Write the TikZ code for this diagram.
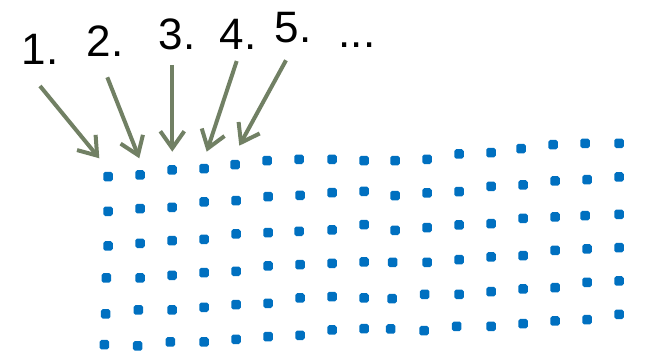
\documentclass[tikz,border=0pt]{standalone}
\usepackage{fontspec}
\setmainfont{Liberation Sans}
\usetikzlibrary{arrows.meta}
\definecolor{dotblue}{HTML}{0070C0}
\definecolor{arrowgreen}{HTML}{718064}
\tikzset{
  dotbox/.style={fill=dotblue, draw=none, minimum size=9.5pt, inner sep=0pt, rounded corners=1.8pt},
  lbl/.style={font=\fontsize{44}{44}\selectfont, inner sep=0pt, anchor=base},
  pointer/.style={draw=arrowgreen, line width=4pt, -{Straight Barb[length=17pt,width=24pt,line width=4pt]}}
}
\begin{document}
\begin{tikzpicture}[x=1pt,y=-1pt]
\useasboundingbox (0,0) rectangle (646,352);
% dot grid (image pixel coordinates)
\foreach \r/\row in {1/{108/176.7,140/175,172/170,204/168.7,235/164.7,267/160.7,299/159.3,332/159.3,364/160.7,395/160.7,427/159.3,459/154,491/152.7,521/148.7,553/144.7,585/143.3,619/143.3},
                      2/{108/211.3,140/208.7,172/207.3,204/202,236/200.7,268/196.7,300/195.3,332/192.7,364/191.3,395/195.7,427/193,459/191.7,491/186.3,523/185,555/181,587/179.7,619/177},
                      3/{108/246,140/243.3,172/240.7,204/239.3,236/234,268/232.7,299/231.3,332/230,364/224.7,395/230.3,427/227.7,459/225,491/223.7,523/218.3,555/217,585/215.7,619/214.3},
                      4/{106.3/278,140/278,172/275.3,204/272.7,236/271.3,268/266,300/264.7,332/263.3,364/262,392.7/262.3,427/262.3,459/259.7,491/257,523/255.7,555/250.3,587/249,619/247.7},
                      5/{105.7/314,138.3/310,172/310,204/307.3,236/304.7,268/303.3,300/298,332/296.7,364/298,392/298.7,424.7/294.3,459/294.3,491/291.7,523/289,555/287.7,587/282.3,619/281},
                      6/{104.3/344.7,137.7/346,170.3/342,204/342,236/339.3,268/336.7,300/335.3,332/330,364/328.7,390.7/329,424/330.7,456.7/326.3,491/326.3,523/323.7,555/321,587/319.7,619/314.3}}
{
  \foreach \x/\y [count=\c] in \row
    \node[dotbox] (d-\r-\c) at (\x,\y) {};
}
% labels
\node[lbl] (l1) at (40,65) {1.};
\node[lbl] (l2) at (105,57) {2.};
\node[lbl] (l3) at (177,50) {3.};
\node[lbl] (l4) at (238,50) {4.};
\node[lbl] (l5) at (293,43) {5.};
\node[lbl] (l6) at (357,48) {...};
% arrows
\coordinate (a1s) at (40,86);    \coordinate (a1e) at (99.3,158.3);
\coordinate (a2s) at (107.3,77.3); \coordinate (a2e) at (139.3,158.3);
\coordinate (a3s) at (172.3,65); \coordinate (a3e) at (172.3,151.7);
\coordinate (a4s) at (236.7,61); \coordinate (a4e) at (206.7,151.7);
\coordinate (a5s) at (286,60.3); \coordinate (a5e) at (239.3,145.7);
\draw[pointer] (a1s) -- (a1e);
\draw[pointer] (a2s) -- (a2e);
\draw[pointer] (a3s) -- (a3e);
\draw[pointer] (a4s) -- (a4e);
\draw[pointer] (a5s) -- (a5e);
\end{tikzpicture}
\end{document}
